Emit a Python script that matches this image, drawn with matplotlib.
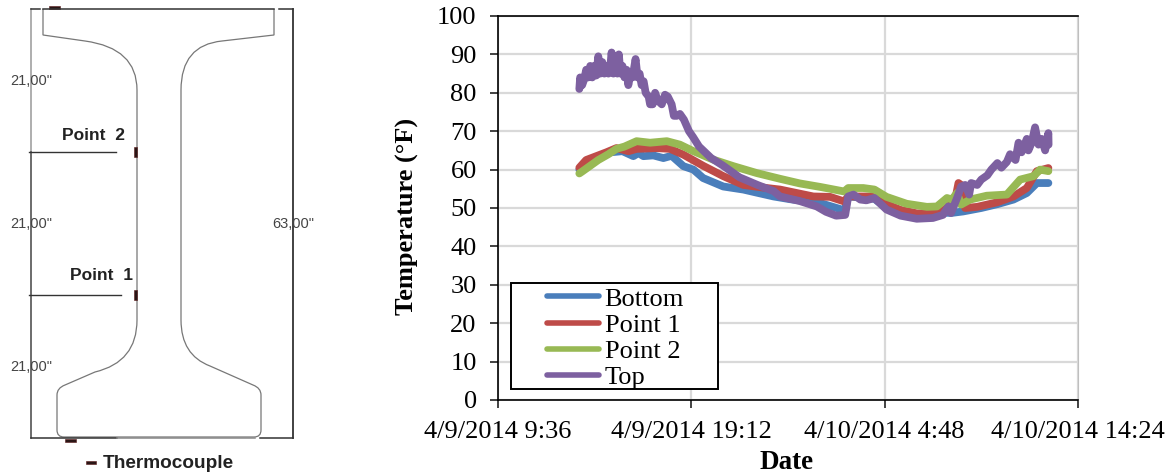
import matplotlib
matplotlib.use('Agg')
import matplotlib.pyplot as plt
from matplotlib.path import Path
from matplotlib.patches import PathPatch, Rectangle

# hours since 4/9/2014 9:36
tick_hours = [0, 9.6, 19.2, 28.8]
tick_labels = ['4/9/2014 9:36', '4/9/2014 19:12', '4/10/2014 4:48', '4/10/2014 14:24']
temp_ticks = list(range(0, 101, 10))

bottom_t = [4.06, 4.4, 5, 5.6, 6.2, 6.74, 6.99, 7.24, 7.73, 8.23, 8.64, 9.22, 9.72, 10.2, 11.2, 12.2, 12.86, 13.7,
            14.5, 16, 17.08, 17.25, 17.4, 18.7, 19.3, 20, 20.8, 21.6, 22.1, 22.5, 23.1, 24, 24.8, 25.6, 26.26, 26.76, 27.33]
bottom_v = [60, 62, 63, 64.5, 64.8, 63.5, 64.3, 63.5, 63.7, 63, 63.6, 60.9, 60, 57.8, 55.6, 54.8, 54, 53,
            52.3, 51.3, 49.6, 49.6, 53, 52.4, 50, 48.5, 47.8, 48, 48.8, 48.7, 49.1, 50, 51, 52.2, 53.9, 56.5, 56.5]

point1_t = [4.06, 4.4, 4.9, 5.4, 5.9, 6.5, 6.9, 7.9, 8.56, 9.22, 10.2, 11.2, 12.2, 13.36, 14.02, 15.67, 16.5, 17.2, 17.4,
            18.7, 19.3, 20, 20.8, 21.6, 22.1, 22.4, 22.7, 22.87, 23, 23.2, 23.8, 24.8, 25.6, 26.26, 26.76, 27.33]
point1_v = [60.5, 62.5, 63.5, 64.5, 65.6, 64.8, 65.4, 65.6, 65.4, 63.9, 61, 58.3, 56, 55.2, 54.8, 53, 52.9, 51.7, 53,
            53, 51, 49.5, 48.6, 48.6, 49.3, 50.5, 52, 56.5, 56, 50, 50.3, 51.5, 53, 55.2, 59.6, 60.4]

point2_t = [4.06, 4.2, 4.6, 5, 5.5, 5.9, 6.3, 6.9, 7.57, 8.4, 9.05, 9.72, 10.7, 11.7, 12.86, 14.02, 15, 16, 17.2, 17.4,
            18.15, 18.7, 19.3, 20.3, 21.3, 21.8, 22.3, 22.54, 22.8, 23, 23.45, 24.27, 25.27, 25.93, 26.6, 26.92, 27.33]
point2_v = [59, 59.5, 61, 62.5, 64, 65.4, 66, 67.4, 67, 67.4, 66.5, 64.8, 62.6, 60.9, 59.1, 57.6, 56.4, 55.5, 54.3, 55.2,
            55.2, 54.8, 52.9, 51.1, 50.3, 50.4, 52.6, 52.2, 53.9, 50.9, 52.2, 53.2, 53.5, 57.4, 58.3, 60, 59.6]

top_t = [4.06, 4.1, 4.2, 4.3, 4.4, 4.5, 4.6, 4.7, 4.8, 4.9, 5.0, 5.1, 5.2, 5.3, 5.4, 5.5, 5.6, 5.66, 5.75, 5.85, 5.95,
         6.02, 6.1, 6.2, 6.3, 6.4, 6.49, 6.6, 6.7, 6.85, 6.95, 7.05, 7.15, 7.25, 7.35, 7.5, 7.57, 7.7, 7.82, 7.95,
         8.15, 8.31, 8.45, 8.64, 8.75, 8.89, 9.05, 9.25, 9.5, 9.7, 10, 10.3, 10.6, 11.2, 12, 12.9, 13.7, 14.02, 15,
         15.84, 16.3, 16.8, 17.25, 17.4, 17.66, 18, 18.3, 18.7, 19.3, 20, 20.8, 21.6, 22.1, 22.37, 22.5, 22.8, 23,
         23.2, 23.4, 23.5, 23.8, 24, 24.3, 24.5, 24.8, 25, 25.27, 25.43, 25.6, 25.7, 25.85, 26, 26.26, 26.34, 26.5,
         26.67, 26.84, 27, 27.17, 27.33, 27.34]
top_v = [81, 84, 82, 83.5, 86, 84, 87, 84, 87, 84.5, 89.5, 85, 88, 85, 87, 85, 87, 90.5, 85, 87, 85,
         90, 85, 87, 84, 86, 82, 85, 84, 88.8, 84, 85, 82, 83, 80, 79, 77, 77, 80, 78,
         77, 79.5, 79, 77, 74, 74, 74.5, 73, 70, 68.5, 66, 64.5, 63, 61, 58, 56, 54.4, 53, 51.8,
         50.4, 49, 48, 48.2, 53, 53.5, 52.2, 52, 52.6, 49.6, 48, 47.2, 47.4, 48.2, 50.4, 48.7, 52.6, 55.6,
         56, 53.5, 56.5, 56, 57.4, 58.5, 60, 61.7, 60.5, 62, 64, 63, 62.5, 67, 64.5, 68, 65, 67,
         71, 66.5, 68, 65, 69.5, 66.5]

series_names = ['Bottom', 'Point 1', 'Point 2', 'Top']
series_colors = ['#4a7ebb', '#be4b48', '#98b954', '#7d60a0']

W, H = 1175, 476
plt.rcParams['font.family'] = ['Liberation Serif', 'DejaVu Serif']
fig = plt.figure(figsize=(W / 100, H / 100), dpi=100)

ax = fig.add_axes([497.5 / W, (H - 400) / H, 580.5 / W, 384 / H])
ax.set_axisbelow(True)
ax.grid(True, color='#d9d9d9', linewidth=1.6)
series = [(bottom_t, bottom_v), (point1_t, point1_v), (point2_t, point2_v), (top_t, top_v)]
for (t, v), name, c in zip(series, series_names, series_colors):
    ax.plot(t, v, color=c, linewidth=5.6, label=name, solid_capstyle='round', solid_joinstyle='round')
ax.set_xlim(tick_hours[0], tick_hours[-1])
ax.set_ylim(0, 100)
ax.set_xticks(tick_hours)
ax.set_xticklabels(tick_labels)
ax.set_yticks(temp_ticks)
ax.tick_params(labelsize=19, length=6, width=1.2, color='#222222')
ax.tick_params(axis='x', pad=9)
ax.tick_params(axis='y', pad=9)
ax.set_xlabel('Date', fontsize=19.5, fontweight='bold')
ax.xaxis.set_label_coords((787 - 497.5) / 580.5, (400 - 450) / 384)
ax.set_ylabel('Temperature (°F)', fontsize=19, fontweight='bold')
ax.yaxis.set_label_coords((419 - 497.5) / 580.5, (400 - 216) / 384)
for s in ['left', 'bottom', 'top']:
    ax.spines[s].set_linewidth(1.2)
ax.spines['right'].set_color('#bfbfbf')

leg = ax.legend(loc='lower left', bbox_to_anchor=(49 / 580.5, 11 / 384), frameon=False, fontsize=19,
                handlelength=2.0, handletextpad=0.2, labelspacing=0.1, borderpad=0, borderaxespad=0)
leg.set_zorder(6)
for line in leg.get_lines():
    line.set_linewidth(4)

# overlay in pixel coordinates for the rail drawing
ov = fig.add_axes([0, 0, 1, 1], facecolor='none')
ov.set_xlim(0, W)
ov.set_ylim(H, 0)
ov.axis('off')
ax.add_patch(Rectangle((511, 283), 207, 106, transform=ov.transData, facecolor='white', edgecolor='black',
                       linewidth=1.4, zorder=5))

M, L, C = Path.MOVETO, Path.LINETO, Path.CURVE3
rail = [((43, 9), M), ((43, 35), L), ((85, 41), L), ((137, 48), C), ((137, 90), C), ((137, 320), L),
        ((137, 362), C), ((95, 372), C), ((65, 385), L), ((57, 388), C), ((57, 395), C), ((57, 430), L),
        ((57, 437), C), ((64, 437), C), ((254, 437), L), ((261, 437), C), ((261, 430), C), ((261, 395), L),
        ((261, 388), C), ((253, 385), C), ((210, 366), L), ((181, 355), C), ((181, 320), C), ((181, 90), L),
        ((181, 45), C), ((222, 41), C), ((274, 35), L), ((274, 9), L)]
ov.add_patch(PathPatch(Path([p[0] for p in rail], [p[1] for p in rail]), facecolor='none', edgecolor='#777777', linewidth=0.9))

dark = '#333333'
ov.plot([31, 31], [9, 152], color='#999999', lw=1.1)
ov.plot([31, 31], [152, 438], color='#444444', lw=1.1)
ov.plot([31, 40], [9, 9], color=dark, lw=1.1)
ov.plot([43, 274], [9, 9], color=dark, lw=1.1)
ov.plot([279, 293], [9, 9], color=dark, lw=1.1)
ov.plot([293, 293], [9, 438], color=dark, lw=1.3)
ov.plot([31, 117], [438, 438], color=dark, lw=1.1)
ov.plot([117, 255], [438, 438], color='#888888', lw=1.1)
ov.plot([260, 293], [438, 438], color=dark, lw=1.1)
ov.plot([29, 116], [152, 152], color=dark, lw=1.0)
ov.plot([29, 121], [295, 295], color=dark, lw=1.0)

for x, y, w, h in [(133.5, 147, 3.5, 10), (133.5, 290, 3.5, 10), (49, 6, 11, 3), (65, 438.5, 11, 3.5), (86, 461, 10, 3)]:
    ov.add_patch(Rectangle((x, y), w, h, facecolor='#2a1515', edgecolor='#5a1a1a', linewidth=0.4))

for y in [81, 224, 367]:
    ov.text(31, y, '21,00"', fontsize=10.5, color='#444444', family='Liberation Sans', ha='center', va='center')
ov.text(293, 224, '63,00"', fontsize=10.5, color='#444444', family='Liberation Sans', ha='center', va='center')
ov.text(94, 135, 'Point  2', fontsize=12.5, fontweight='bold', color='#222222', family='Liberation Sans', ha='center', va='center')
ov.text(101, 275, 'Point  1', fontsize=12.5, fontweight='bold', color='#222222', family='Liberation Sans', ha='center', va='center')
ov.text(168, 464, 'Thermocouple', fontsize=13.7, fontweight='bold', color='#222222', family='Liberation Sans', ha='center', va='center')

fig.savefig('out.png', dpi=100)
